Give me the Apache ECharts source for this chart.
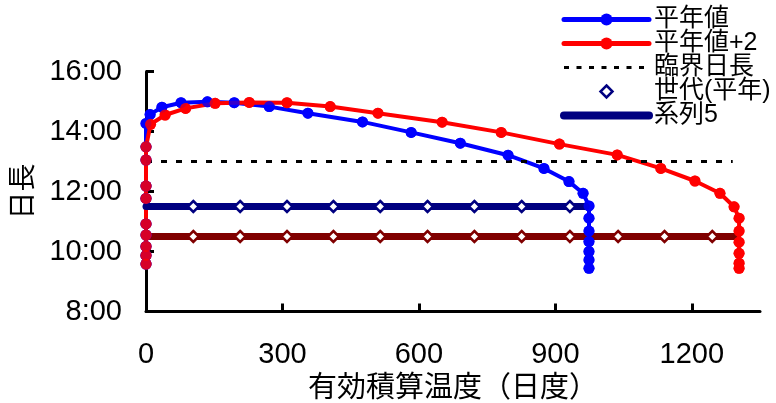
<!DOCTYPE html>
<html>
<head>
<meta charset="utf-8">
<script src="https://cdn.jsdelivr.net/npm/echarts@6/dist/echarts.min.js"></script>
<style>html,body{margin:0;padding:0;background:#fff}#c{width:776px;height:403px}</style>
</head>
<body>
<div id="c"></div>
<script>
// ---- data (x: 有効積算温度 [日度], y: 日長 [hours]) ----
const normalGDD = [0,0,0,0,0,0,0,0,0,0,9,35,77,135,194,271,356,476,583,691,796,875,930,961,974,974,974,974,974,974,974];
const normalDay = [9.58,9.87,10.17,10.55,10.92,11.77,12.18,13.05,13.49,14.27,14.57,14.81,14.96,14.99,14.96,14.83,14.61,14.32,13.97,13.61,13.21,12.77,12.33,11.94,11.52,11.11,10.68,10.33,10.00,9.72,9.44];
const warmGDD = [0,0,0,0,0,0,0,0,0,10,42,87,152,227,310,405,510,651,781,909,1036,1132,1207,1262,1293,1304,1304,1304,1304,1304,1304];
const warmDay = [9.58,9.87,10.17,10.55,10.92,11.77,12.18,13.05,13.49,14.24,14.55,14.77,14.94,14.97,14.96,14.83,14.61,14.31,13.97,13.58,13.22,12.77,12.35,11.94,11.49,11.11,10.68,10.31,9.94,9.61,9.44];
const criticalX = [0, 1290];
const criticalDay = [13, 13];
const genNormalX = [104,207,310,412,515,619,722,826,932];
const genNormalDay = 11.5;
const genWarmX = [104,207,310,412,515,619,722,826,932,1038,1140,1245];
const genWarmDay = 10.5;
const series5X = [0, 968];
const series6X = [0, 1297];
const xTicks = [0,300,600,900,1200];
const yTicks = [8,10,12,14,16];

const zip = (xs, ys) => xs.map((x, i) => [x, Array.isArray(ys) ? ys[i] : ys]);
const FONT = "'Liberation Sans','Noto Sans CJK JP',sans-serif";
const BLUE = '#0000FF', RED = '#FF0000', NAVY = '#000080', MAROON = '#800000';

const chart = echarts.init(document.getElementById('c'), null, {renderer: 'canvas'});
chart.setOption({
  animation: false,
  backgroundColor: '#fff',
  textStyle: {fontFamily: FONT, color: '#000'},
  grid: {left: 146, right: 16, top: 71.5, bottom: 91.5, containLabel: false, outerBoundsMode: 'none'},
  legend: {
    orient: 'vertical', left: 560, top: 7, padding: 0,
    itemWidth: 85, itemHeight: 15, itemGap: -1,
    textStyle: {fontFamily: FONT, fontSize: 25, color: '#000'},
    data: [
      {name: '平年値', lineStyle: {width: 5, cap: 'round'}},
      {name: '平年値+2', lineStyle: {width: 5, cap: 'round'}},
      {name: '臨界日長', lineStyle: {width: 3, type: [5, 7.5]}, itemStyle: {opacity: 0}},
      {name: '世代(平年)', lineStyle: {opacity: 0}, itemStyle: {color: '#fff', borderColor: NAVY, borderWidth: 2.5}},
      {name: '系列5', lineStyle: {width: 8, cap: 'round'}, itemStyle: {opacity: 0}}
    ]
  },
  xAxis: {
    type: 'value', min: 0, max: 1350,
    name: '有効積算温度（日度）', nameLocation: 'middle', nameGap: 57,
    nameTextStyle: {fontFamily: FONT, fontSize: 29, color: '#000'},
    axisLine: {show: true, lineStyle: {color: '#000', width: 3}},
    axisTick: {show: true, inside: true, length: 8, lineStyle: {color: '#000', width: 3}, customValues: xTicks},
    axisLabel: {fontFamily: FONT, fontSize: 29, color: '#000', margin: 29, customValues: xTicks, formatter: v => String(v)},
    splitLine: {show: false}
  },
  yAxis: {
    type: 'value', min: yTicks[0], max: yTicks[yTicks.length - 1], interval: 2,
    name: '日長', nameLocation: 'middle', nameGap: 108, nameRotate: 90,
    nameTextStyle: {fontFamily: FONT, fontSize: 28, color: '#000'},
    axisLine: {show: true, lineStyle: {color: '#000', width: 3}},
    axisTick: {show: true, inside: true, length: 8, lineStyle: {color: '#000', width: 3}},
    axisLabel: {fontFamily: FONT, fontSize: 29, color: '#000', margin: 24, formatter: v => v + ':00'},
    splitLine: {show: false}
  },
  series: [
    {name: '系列6', type: 'line', z: 1, silent: true, symbol: 'none',
     data: zip(series6X, genWarmDay), lineStyle: {color: MAROON, width: 7, cap: 'round'}, itemStyle: {color: MAROON}},
    {name: '平年値', type: 'line', z: 2, silent: true, symbol: 'circle', symbolSize: 11,
     data: zip(normalGDD, normalDay), lineStyle: {color: BLUE, width: 4}, itemStyle: {color: BLUE}},
    {name: '平年値+2', type: 'line', z: 3, silent: true, symbol: 'circle', symbolSize: 11,
     data: zip(warmGDD, warmDay), lineStyle: {color: RED, width: 4}, itemStyle: {color: RED}},
    {name: '臨界日長', type: 'line', z: 4, silent: true, symbol: 'none',
     data: zip(criticalX, criticalDay), lineStyle: {color: '#000', width: 3, type: [6, 9]}, itemStyle: {color: '#000'}},
    {name: '系列5', type: 'line', z: 5, silent: true, symbol: 'none',
     data: zip(series5X, genNormalDay), lineStyle: {color: NAVY, width: 7, cap: 'round'}, itemStyle: {color: NAVY}},
    {name: 'm1', type: 'scatter', z: 10, silent: true, symbol: 'circle', symbolSize: 11,
     data: zip(normalGDD, normalDay), itemStyle: {color: BLUE}},
    {name: 'm2', type: 'scatter', z: 11, silent: true, symbol: 'circle', symbolSize: 11,
     data: zip(warmGDD, warmDay), itemStyle: {color: RED}},
    {name: '世代(平年)', type: 'line', z: 12, silent: true, symbol: 'diamond', symbolSize: 11,
     data: zip(genNormalX, genNormalDay), lineStyle: {opacity: 0, width: 1, color: NAVY},
     itemStyle: {color: '#fff', borderColor: NAVY, borderWidth: 2.5}},
    {name: '世代(+2)', type: 'line', z: 12, silent: true, symbol: 'diamond', symbolSize: 11,
     data: zip(genWarmX, genWarmDay), lineStyle: {opacity: 0, width: 1, color: MAROON},
     itemStyle: {color: '#fff', borderColor: MAROON, borderWidth: 2.5}}
  ]
});
</script>
</body>
</html>
